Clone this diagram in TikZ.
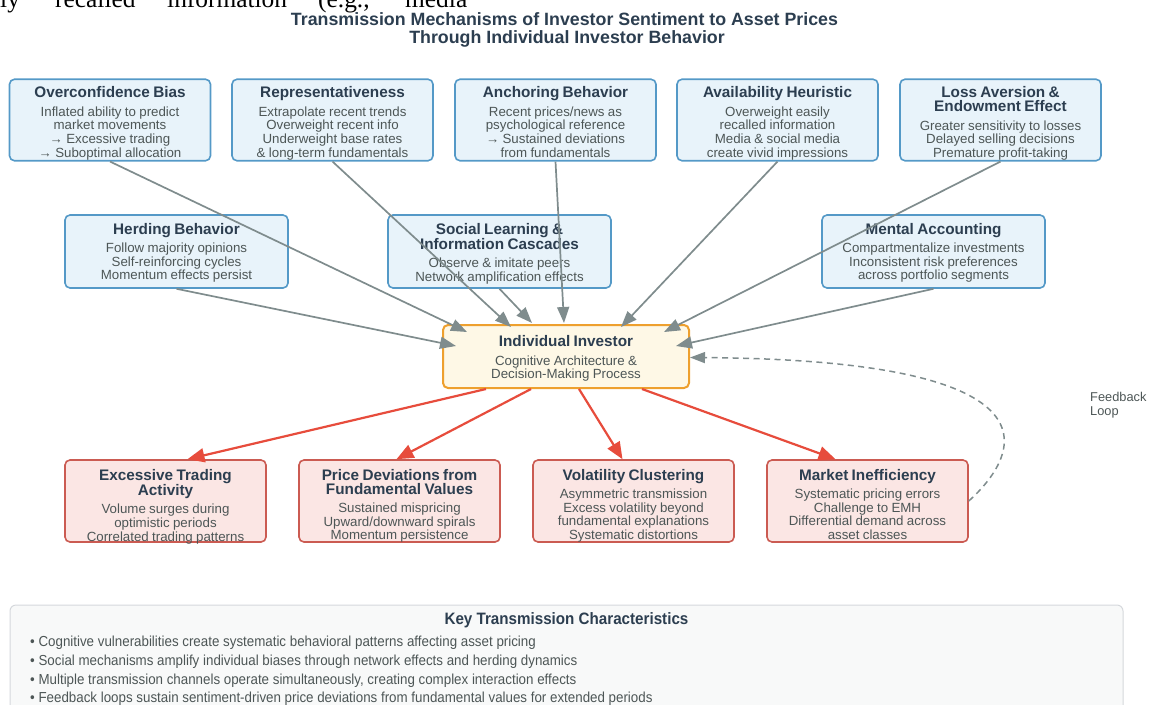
\documentclass[tikz,border=0pt]{standalone}
\usepackage{fontspec}
\setmainfont{Liberation Sans}
\newfontfamily\docserif{Liberation Serif}
\newfontfamily\keyfont[FakeStretch=0.92]{Liberation Sans}
\usetikzlibrary{arrows.meta,calc}

\definecolor{ink}{HTML}{2C3E50}
\definecolor{bodyink}{HTML}{4D5656}
\definecolor{bluefill}{HTML}{E8F3FA}
\definecolor{blueline}{HTML}{5499C7}
\definecolor{corefill}{HTML}{FEF8E6}
\definecolor{coreline}{HTML}{EEA02E}
\definecolor{redfill}{HTML}{FBE6E4}
\definecolor{redline}{HTML}{CB5B52}
\definecolor{redarrow}{HTML}{E74C3C}
\definecolor{grayarrow}{HTML}{7F8C8D}
\definecolor{keyfill}{HTML}{F8F9F9}
\definecolor{keyline}{HTML}{D5D8DC}

% box heading and box body text
\newcommand\hd[1]{{\fontsize{15.3}{14}\selectfont\bfseries\leavevmode\color{ink}#1\par}}
\newcommand\bd[1]{\vspace{5pt}{\fontsize{13.3}{13.6}\selectfont\leavevmode\color{bodyink}#1\par}}

\tikzset{
  card/.style={rounded corners=5pt, line width=1.6pt, inner xsep=4pt, inner ysep=0pt, align=center},
  cuebox/.style={card, draw=blueline, fill=bluefill, text width=193pt, text height=18.5pt, text depth=63pt},
  socbox/.style={card, draw=blueline, fill=bluefill, text width=215pt, text height=19pt, text depth=54pt},
  corebox/.style={card, draw=coreline, fill=corefill, line width=2pt, text width=238pt, text height=21.5pt, text depth=41.5pt},
  effbox/.style={card, draw=redline, fill=redfill, text width=193pt, text height=20pt, text depth=62pt},
  inarrow/.style={draw=grayarrow, line width=1.7pt, -{Triangle[length=16pt,width=12pt]}},
  outarrow/.style={draw=redarrow, line width=2.2pt, -{Triangle[length=17pt,width=14pt]}},
  backarrow/.style={draw=grayarrow, line width=1.5pt, dash pattern=on 6pt off 4.5pt, -{Triangle[length=15pt,width=11pt]}},
  docword/.style={anchor=base west, inner sep=0pt, font=\docserif\fontsize{25.4}{30}\selectfont},
  bullet/.style={anchor=base west, inner sep=0pt, text=bodyink, font=\keyfont\fontsize{14.5}{16}\selectfont},
}

\begin{document}
\begin{tikzpicture}[x=1pt, y=-1pt]
\useasboundingbox (0,0) rectangle (1153,704);
\clip (0,0) rectangle (1153,704);

% running text of the page above the figure
\node[docword] (w1) at (0,8) {ly};
\node[docword] (w2) at (55,8) {recalled};
\node[docword] (w3) at (167,8) {information};
\node[docword] (w4) at (318,8) {(e.g.,};
\node[docword] (w5) at (405,8) {media};

% title
\node[anchor=base, inner sep=0pt, text=ink, font=\fontsize{17.8}{18}\selectfont\bfseries] (title1) at (564.5,25) {Transmission Mechanisms of Investor Sentiment to Asset Prices};
\node[anchor=base, inner sep=0pt, text=ink, font=\fontsize{17.8}{18}\selectfont\bfseries] (title2) at (567,43) {Through Individual Investor Behavior};

% cognitive biases
\node[cuebox] (ov) at (110,120) {\hd{Overconfidence Bias}\bd{Inflated ability to predict\\market movements\\→ Excessive trading\\→ Suboptimal allocation}};
\node[cuebox] (rep) at (332.5,120) {\hd{Representativeness}\bd{Extrapolate recent trends\\Overweight recent info\\Underweight base rates\\\& long-term fundamentals}};
\node[cuebox] (anc) at (555.5,120) {\hd{Anchoring Behavior}\bd{Recent prices/news as\\psychological reference\\→ Sustained deviations\\from fundamentals}};
\node[cuebox] (ava) at (777.5,120) {\hd{Availability Heuristic}\bd{Overweight easily\\recalled information\\Media \& social media\\create vivid impressions}};
\node[cuebox] (loss) at (1000.5,120) {\hd{Loss Aversion \&\\Endowment Effect}\bd{Greater sensitivity to losses\\Delayed selling decisions\\Premature profit-taking}};

% social mechanisms
\node[socbox] (herd) at (176.5,251.5) {\hd{Herding Behavior}\bd{Follow majority opinions\\Self-reinforcing cycles\\Momentum effects persist}};
\node[socbox] (soc) at (499.5,251.5) {\hd{Social Learning \&\\Information Cascades}\bd{Observe \& imitate peers\\Network amplification effects}};
\node[socbox] (ment) at (933.5,251.5) {\hd{Mental Accounting}\bd{Compartmentalize investments\\Inconsistent risk preferences\\across portfolio segments}};

% the investor
\node[corebox] (inv) at (566,356.5) {\hd{Individual Investor}\bd{Cognitive Architecture \&\\Decision-Making Process}};

% market outcomes
\node[effbox] (exc) at (165.5,501) {\hd{Excessive Trading\\Activity}\bd{Volume surges during\\optimistic periods\\Correlated trading patterns}};
\node[effbox] (pdev) at (399.5,501) {\hd{Price Deviations from\\Fundamental Values}\bd{Sustained mispricing\\Upward/downward spirals\\Momentum persistence}};
\node[effbox] (vol) at (633.5,501) {\hd{Volatility Clustering}\bd{Asymmetric transmission\\Excess volatility beyond\\fundamental explanations\\Systematic distortions}};
\node[effbox] (mkt) at (867.5,501) {\hd{Market Inefficiency}\bd{Systematic pricing errors\\Challenge to EMH\\Differential demand across\\asset classes}};

% inputs into the investor
\draw[inarrow] (ov.south) -- ($(inv.north west)+(25,8)$);
\draw[inarrow] (rep.south) -- ($(inv.north west)+(69,3)$);
\draw[inarrow] (anc.south) -- ($(inv.north west)+(122,-1)$);
\draw[inarrow] (ava.south) -- ($(inv.north west)+(179,3)$);
\draw[inarrow] (loss.south) -- ($(inv.north west)+(222,8)$);
\draw[inarrow] (herd.south) -- ($(inv.north west)+(14,22)$);
\draw[inarrow] (soc.south) -- ($(inv.north west)+(90,-1)$);
\draw[inarrow] (ment.south) -- ($(inv.north west)+(234,22)$);

% outputs to the market
\draw[outarrow] ($(inv.south west)+(44,0)$) -- ($(exc.north)+(22,0)$);
\draw[outarrow] ($(inv.south west)+(89,0)$) -- ($(pdev.north)+(-3,0)$);
\draw[outarrow] ($(inv.south west)+(137,0)$) -- ($(vol.north)+(-11,0)$);
\draw[outarrow] ($(inv.south west)+(200,0)$) -- ($(mkt.north)+(-32,0)$);

% feedback from the market back to the investor
\draw[backarrow] (mkt.east) .. controls (1025,450) and (1060,360) .. ($(inv.east)+(0,1)$);
\node[anchor=base west, inner sep=0pt, align=left, text=bodyink, font=\fontsize{12.8}{14}\selectfont] (fbl) at (1090,415.5) {Feedback\\Loop};

% summary panel
\node[draw=keyline, fill=keyfill, line width=1pt, rounded corners=6pt, minimum width=1113pt, minimum height=110pt, inner sep=0pt] (key) at (566.5,660) {};
\node[anchor=base, inner sep=0pt, text=ink, font=\keyfont\bfseries\fontsize{16.5}{18}\selectfont] (keyhead) at (566.5,624.5) {Key Transmission Characteristics};
\node[bullet] (k1) at (30,646.5) {• Cognitive vulnerabilities create systematic behavioral patterns affecting asset pricing};
\node[bullet] (k2) at (30,665.5) {• Social mechanisms amplify individual biases through network effects and herding dynamics};
\node[bullet] (k3) at (30,684.5) {• Multiple transmission channels operate simultaneously, creating complex interaction effects};
\node[bullet] (k4) at (30,702.5) {• Feedback loops sustain sentiment-driven price deviations from fundamental values for extended periods};
\end{tikzpicture}
\end{document}
